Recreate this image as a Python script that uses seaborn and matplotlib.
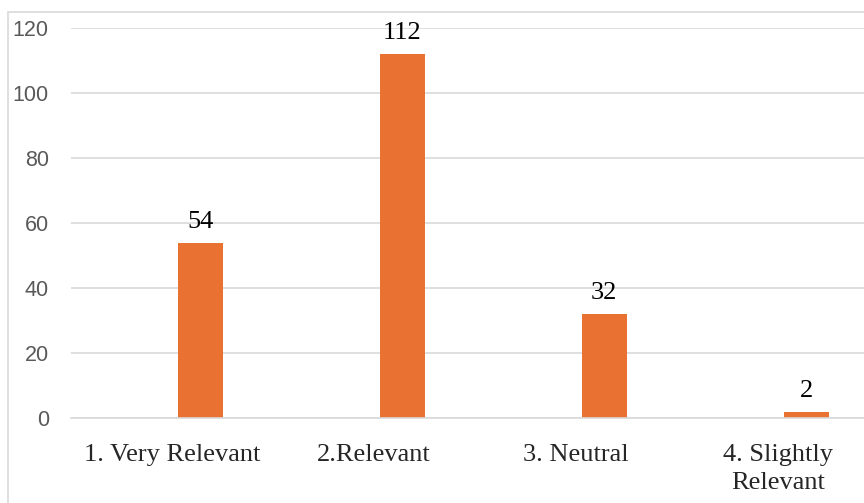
import pandas as pd
import seaborn as sns
import matplotlib.pyplot as plt
from matplotlib.patches import Rectangle

categories = ['1. Very Relevant', '2.Relevant', '3. Neutral', '4. Slightly\nRelevant']
counts = [54, 112, 32, 2]
blank = [0, 0, 0, 0]  # empty first series, it only shifts the bars right
series = ['blank', 'Count']

df = pd.concat([
    pd.DataFrame({'category': categories, 'count': blank, 'series': 'blank'}),
    pd.DataFrame({'category': categories, 'count': counts, 'series': 'Count'}),
])

sns.set_style('white')
fig = plt.figure(figsize=(8.64, 5.03), dpi=100)
ax = fig.add_axes([71 / 864, 85 / 503, 808 / 864, 390 / 503])

sns.barplot(data=df, x='category', y='count', hue='series', hue_order=series,
            palette={'blank': 'white', 'Count': '#E97132'}, width=0.556, gap=0.2,
            saturation=1, legend=False, linewidth=0, ax=ax)

ax.bar_label(ax.containers[1], fmt='%d', padding=7, fontsize=19,
             family='Liberation Serif', color='black')

ax.set_ylim(0, 120)
ax.set_yticks(range(0, 121, 20))
ax.yaxis.grid(True, color='#D9D9D9', linewidth=1.2)
ax.set_axisbelow(True)
for s in ax.spines.values():
    s.set_visible(False)
ax.spines['bottom'].set_visible(True)
ax.spines['bottom'].set_color('#D9D9D9')
ax.spines['bottom'].set_linewidth(1.2)
ax.tick_params(axis='y', length=0, pad=16, labelsize=15.5, labelcolor='#595959')
ax.tick_params(axis='x', length=0, pad=19)
for lab in ax.get_yticklabels():
    lab.set_family('Liberation Sans')
for lab in ax.get_xticklabels():
    lab.set_family('Liberation Serif')
    lab.set_fontsize(19)
    lab.set_linespacing(1.35)
ax.set_xlabel('')
ax.set_ylabel('')

# outer chart border, cut off at right and bottom like the source
fig.patches.append(Rectangle((8 / 864, -0.1), 1.2, 0.1 + (503 - 12) / 503,
                             transform=fig.transFigure, fill=False,
                             edgecolor='#D9D9D9', linewidth=1.2))

fig.savefig('out.png', dpi=100)
